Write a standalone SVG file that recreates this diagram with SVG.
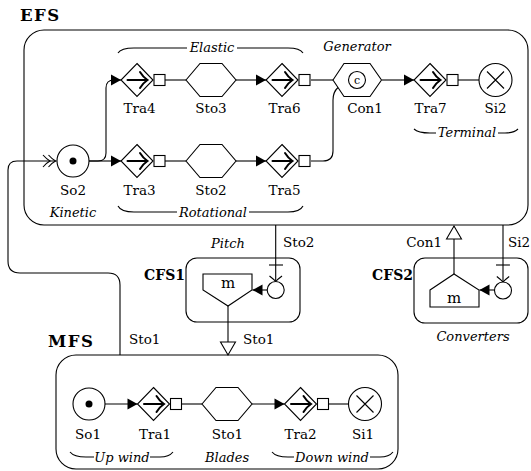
<svg xmlns="http://www.w3.org/2000/svg" width="531" height="471" viewBox="0 0 531 471">
<style>
text{font-family:"DejaVu Serif","Liberation Serif",serif;fill:#000}
.lbl{font-size:13.5px;text-anchor:middle}
.cl{font-size:13.5px}
.it{font-size:13px;font-style:italic;text-anchor:middle}
.hd{font-size:16.5px;font-weight:bold;letter-spacing:1.5px}
.hs{font-size:14px;font-weight:bold;text-anchor:end}
.box{fill:none;stroke:#000;stroke-width:1.1}
.ln{fill:none;stroke:#000;stroke-width:1.1}
.sh{fill:#fff;stroke:#000;stroke-width:1.1}
.ar{fill:none;stroke:#000;stroke-width:2;stroke-linecap:round}
</style>
<defs>
<marker id="tri" markerUnits="userSpaceOnUse" markerWidth="10" markerHeight="11" refX="10" refY="5.5" orient="auto" overflow="visible">
<path d="M0,0 L10,5.5 L0,11 z" fill="#000"/>
</marker>
<marker id="open" markerUnits="userSpaceOnUse" markerWidth="13" markerHeight="15" refX="13" refY="7.5" orient="auto" overflow="visible">
<path d="M0,0 L13,7.5 L0,15 z" fill="#fff" stroke="#000" stroke-width="1.1"/>
</marker>
<g id="traShape">
<polygon class="sh" points="0,-16.5 16,0 0,16.5 -16,0"/>
<path class="ar" d="M-9.5,0 H10"/>
<path class="ar" d="M3,-8 Q6,-3 10.5,0 Q6,3 3,8"/>
<rect class="sh" x="17" y="-5.5" width="11" height="11"/>
</g>
<polygon id="hexShape" class="sh" points="-25,0 -11,-16.5 11,-16.5 25,0 11,16.5 -11,16.5"/>
<g id="srcShape">
<circle class="sh" r="16"/>
<circle r="3.5" fill="#000"/>
</g>
<g id="sinkShape">
<circle class="sh" r="16.5"/>
<path class="ln" d="M-8.5,-8.5 L8.5,8.5 M-8.5,8.5 L8.5,-8.5"/>
</g>
</defs>

<!-- Containers -->
<g id="EFS">
<rect class="box" x="24" y="30" width="504" height="195" rx="20"/>
<text class="hd" x="20" y="21">EFS</text>
</g>
<g id="MFS">
<rect class="box" x="56" y="355" width="342" height="114" rx="20"/>
<text class="hd" x="48" y="347">MFS</text>
</g>

<!-- Connectors -->
<g id="connectors">
<path class="ln" d="M120,355 V285 Q120,273 108,273 H20 Q8,273 8,261 V170 Q8,161 17,161 H56.5"/>
<path class="ln" d="M43,155 Q47,159.5 50,161 Q47,162.5 43,167"/>
<path class="ln" d="M48.5,155 Q52.5,159.5 55.5,161 Q52.5,162.5 48.5,167"/>
<path class="ln" d="M89,161 H98 Q106,161 106,153 V88 Q106,80 114,80 H121" marker-end="url(#tri)"/>
<path class="ln" d="M89,161 H121" marker-end="url(#tri)"/>
<path class="ln" d="M165,80 H186"/>
<path class="ln" d="M236,80 H266" marker-end="url(#tri)"/>
<path class="ln" d="M311,80 H333"/>
<path class="ln" d="M382,80 H414" marker-end="url(#tri)"/>
<path class="ln" d="M458,80 H479"/>
<path class="ln" d="M165,161 H186"/>
<path class="ln" d="M236,161 H266" marker-end="url(#tri)"/>
<path class="ln" d="M311,161 H323 Q333,161 333,151 V100 Q333,92 338,87.5"/>
<path class="ln" d="M105,404 H137.5" marker-end="url(#tri)"/>
<path class="ln" d="M181.5,404 H202"/>
<path class="ln" d="M252,404 H284.5" marker-end="url(#tri)"/>
<path class="ln" d="M328.5,404 H348.5"/>
<!-- EFS to CFS1 : Sto2 -->
<path class="ln" d="M275.7,225 V281.5"/>
<path class="ln" d="M269,265 H283"/>
<path class="ln" d="M269.5,276 Q274,279.5 275.7,281.5 Q277.4,279.5 282,276"/>
<text class="cl" x="283" y="247">Sto2</text>
<!-- EFS to CFS2 : Si2 -->
<path class="ln" d="M503,225 V282"/>
<path class="ln" d="M496,265 H510"/>
<path class="ln" d="M496.8,276.5 Q501.3,280 503,282 Q504.7,280 509.2,276.5"/>
<text class="cl" x="508" y="247">Si2</text>
<!-- CFS2 to EFS : Con1 -->
<path class="ln" d="M454,274 V226" marker-end="url(#open)"/>
<text class="cl" x="442" y="247" text-anchor="end">Con1</text>
<!-- CFS1 to MFS : Sto1 -->
<path class="ln" d="M228,306 V355" marker-end="url(#open)"/>
<text class="cl" x="243" y="344">Sto1</text>
<text class="cl" x="129" y="344">Sto1</text>
<!-- inside CFS -->
<path class="ln" d="M267.2,290 H252.5" marker-end="url(#tri)"/>
<path class="ln" d="M494.5,290 H479.5" marker-end="url(#tri)"/>
</g>

<!-- Group labels -->
<g id="groups">
<path class="ln" d="M118,53 Q121,48 134,48 H187 M237,48 H288 Q300,48 303,53"/>
<text class="it" x="212" y="52">Elastic</text>
<text class="it" x="357" y="51">Generator</text>
<path class="ln" d="M118,206 Q121,212 134,212 H177 M249,212 H288 Q300,212 303,206"/>
<text class="it" x="213" y="217">Rotational</text>
<text class="it" x="73" y="217">Kinetic</text>
<path class="ln" d="M414,129 Q418,133 430,133 H436 M498,133 H505 Q514,133 518,129"/>
<text class="it" x="467" y="137">Terminal</text>
<path class="ln" d="M70,452 Q74,457 86,457 H94 M150,457 H160 Q169,457 173,452"/>
<text class="it" x="122" y="462">Up wind</text>
<text class="it" x="227" y="462">Blades</text>
<path class="ln" d="M272,452 Q276,457 288,457 H294 M370,457 H380 Q389,457 393,452"/>
<text class="it" x="332" y="462">Down wind</text>
</g>

<!-- EFS nodes -->
<g id="So2"><use href="#srcShape" x="73" y="161"/><text class="lbl" x="73" y="195">So2</text></g>
<g id="Tra4"><use href="#traShape" x="137" y="80"/><text class="lbl" x="139.5" y="113">Tra4</text></g>
<g id="Sto3"><use href="#hexShape" x="211" y="80"/><text class="lbl" x="211" y="113">Sto3</text></g>
<g id="Tra6"><use href="#traShape" x="282" y="80"/><text class="lbl" x="284.5" y="113">Tra6</text></g>
<g id="Con1">
<polygon class="sh" points="333,80 344,63.5 370,63.5 381.5,80 370,96.5 344,96.5"/>
<circle class="sh" cx="357" cy="80" r="8.5"/>
<text x="357" y="84" style="font-size:11px;text-anchor:middle">c</text>
<text class="lbl" x="365" y="113">Con1</text>
</g>
<g id="Tra7"><use href="#traShape" x="430" y="80"/><text class="lbl" x="430.5" y="113">Tra7</text></g>
<g id="Si2"><use href="#sinkShape" x="495.5" y="80"/><text class="lbl" x="495.5" y="113">Si2</text></g>
<g id="Tra3"><use href="#traShape" x="137" y="161"/><text class="lbl" x="139.5" y="195">Tra3</text></g>
<g id="Sto2"><use href="#hexShape" x="211" y="161"/><text class="lbl" x="211" y="195">Sto2</text></g>
<g id="Tra5"><use href="#traShape" x="282" y="161"/><text class="lbl" x="284.5" y="195">Tra5</text></g>

<!-- CFS1 -->
<g id="CFS1">
<rect class="box" x="186" y="258" width="114" height="64" rx="11"/>
<text class="hs" x="185" y="280">CFS1</text>
<text class="it" x="228" y="248">Pitch</text>
<polygon class="sh" points="203,274 252,274 252,290 228,306 203,290"/>
<text x="228" y="288" style="font-size:15px;text-anchor:middle">m</text>
<circle class="sh" cx="275.7" cy="290" r="8.5"/>
</g>

<!-- CFS2 -->
<g id="CFS2">
<rect class="box" x="414" y="258" width="114" height="65" rx="11"/>
<text class="hs" x="413" y="280">CFS2</text>
<text class="it" x="473" y="341">Converters</text>
<polygon class="sh" points="430,290 454,274 479,290 479,307 430,307"/>
<text x="454" y="303" style="font-size:15px;text-anchor:middle">m</text>
<circle class="sh" cx="503" cy="290.5" r="8.5"/>
</g>

<!-- MFS nodes -->
<g id="So1"><use href="#srcShape" x="89" y="404"/><text class="lbl" x="88" y="439">So1</text></g>
<g id="Tra1"><use href="#traShape" x="153.5" y="404"/><text class="lbl" x="155" y="439">Tra1</text></g>
<g id="Sto1"><use href="#hexShape" x="227" y="404"/><text class="lbl" x="227.5" y="439">Sto1</text></g>
<g id="Tra2"><use href="#traShape" x="300.5" y="404"/><text class="lbl" x="300.5" y="439">Tra2</text></g>
<g id="Si1"><use href="#sinkShape" x="365" y="404"/><text class="lbl" x="363" y="439">Si1</text></g>
</svg>
